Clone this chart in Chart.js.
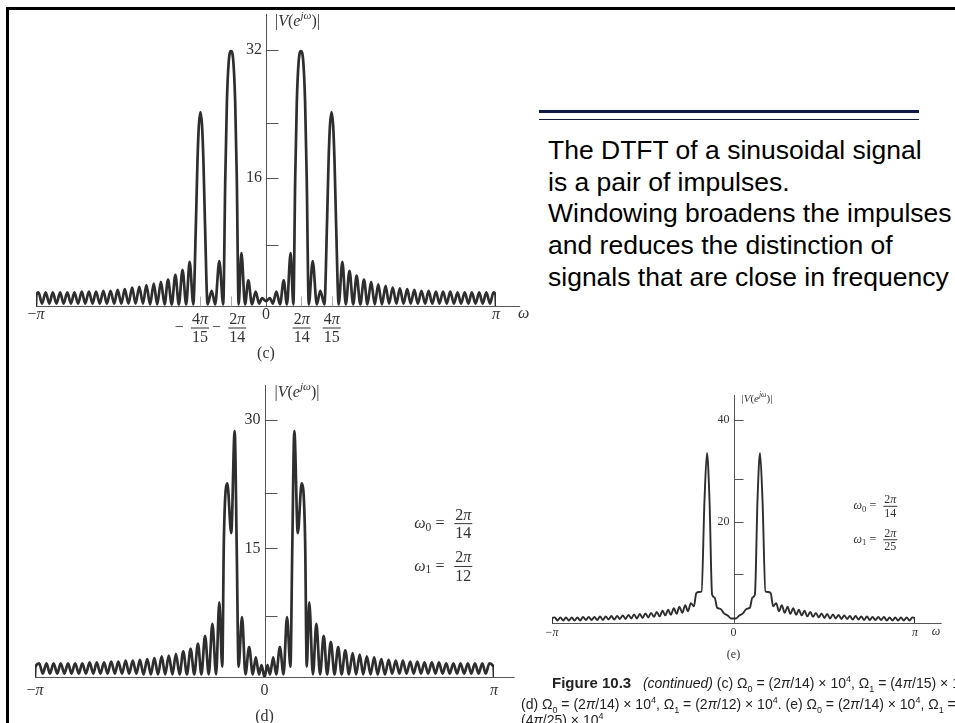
<!DOCTYPE html>
<html>
<head>
<meta charset="utf-8">
<script src="https://cdn.jsdelivr.net/npm/chart.js@4.4.0/dist/chart.umd.min.js"></script>
<style>
  html, body { margin: 0; padding: 0; background: #fff; }
  #page { position: relative; width: 955px; height: 723px; overflow: hidden; background: #fff; }
  canvas { position: absolute; left: 0; top: 0; }
  .bar { position: absolute; background: #000; }
  .rule { position: absolute; left: 539px; width: 380px; background: #0c1850; }
  .note { position: absolute; left: 548px; top: 135px; font: 26.5px/31.7px "Liberation Sans", Arial, sans-serif; color: #000; white-space: nowrap; }
  .cap { position: absolute; font: 14px/16px "Liberation Sans", Arial, sans-serif; color: #222; white-space: nowrap; }
  .cap b { font-family: "Liberation Sans Narrow", "Liberation Sans", Arial, sans-serif; font-size: 15px; }
  .cap sub, .cap sup { font-size: 9px; line-height: 0; }
</style>
</head>
<body>
<div id="page">
  <div class="bar" style="left:6px; top:7px; width:949px; height:3px"></div>
  <div class="bar" style="left:6px; top:7px; width:3px; height:716px"></div>
  <div class="rule" style="top:110px; height:3px"></div>
  <div class="rule" style="top:119px; height:1px"></div>
  <div class="note">The DTFT of a sinusoidal signal<br>is a pair of impulses.<br>Windowing broadens the impulses<br>and reduces the distinction of<br>signals that are close in frequency</div>

  <canvas id="chartC" width="955" height="723"></canvas>
  <canvas id="chartD" width="955" height="723"></canvas>
  <canvas id="chartE" width="955" height="723"></canvas>

  <div class="cap" style="left:552px; top:675px"><b>Figure 10.3</b>&nbsp;&nbsp; <i>(continued)</i> (c) Ω<sub>0</sub> = (2<i>π</i>/14) × 10<sup>4</sup>, Ω<sub>1</sub> = (4<i>π</i>/15) × 10<sup>4</sup>,</div>
  <div class="cap" style="left:521px; top:696px">(d) Ω<sub>0</sub> = (2<i>π</i>/14) × 10<sup>4</sup>, Ω<sub>1</sub> = (2<i>π</i>/12) × 10<sup>4</sup>. (e) Ω<sub>0</sub> = (2<i>π</i>/14) × 10<sup>4</sup>, Ω<sub>1</sub> =</div>
  <div class="cap" style="left:521px; top:712px">(4<i>π</i>/25) × 10<sup>4</sup>.</div>
</div>

<script>
// ---- panel (c): w0 = 2pi/14, w1 = 4pi/15 (omega in units of pi) ----
const cOmega = [
  -1, -0.998, -0.989, -0.974, -0.958, -0.942, -0.927, -0.911, -0.895, -0.880,
  -0.864, -0.848, -0.833, -0.817, -0.801, -0.786, -0.770, -0.754, -0.739, -0.723,
  -0.707, -0.692, -0.676, -0.660, -0.645, -0.629, -0.614, -0.598, -0.582, -0.567,
  -0.551, -0.535, -0.520, -0.504, -0.488, -0.473, -0.457, -0.441, -0.426, -0.410,
  -0.394, -0.379, -0.363, -0.347, -0.332, -0.316,
  -0.305, -0.298, -0.292, -0.285, -0.278, -0.272, -0.265, -0.254,
  -0.236, -0.221, -0.203, -0.186,
  -0.177, -0.170, -0.162, -0.152, -0.142, -0.134, -0.127, -0.119,
  -0.107, -0.091, -0.077, -0.061, -0.045, -0.030, -0.017, 0, 0.017, 0.030, 0.045, 0.061, 0.077, 0.091, 0.107,
  0.119, 0.127, 0.134, 0.142, 0.152, 0.162, 0.170, 0.177, 0.186,
  0.203, 0.221, 0.236, 0.254,
  0.265, 0.272, 0.278, 0.285, 0.292, 0.298, 0.305, 0.316,
  0.332, 0.347, 0.363, 0.379, 0.394, 0.410, 0.426, 0.441, 0.457, 0.473,
  0.488, 0.504, 0.520, 0.535, 0.551, 0.567, 0.582, 0.598, 0.614, 0.629,
  0.645, 0.660, 0.676, 0.692, 0.707, 0.723, 0.739, 0.754, 0.770, 0.786,
  0.801, 0.817, 0.833, 0.848, 0.864, 0.880, 0.895, 0.911, 0.927, 0.942,
  0.958, 0.974, 0.989, 0.998, 1
];
const cMag = [
  0, 1.4, 1.7, 0.3, 1.7, 0.3, 1.7, 0.3, 1.7, 0.3,
  1.7, 0.3, 1.7, 0.3, 1.8, 0.3, 1.8, 0.3, 1.8, 0.3,
  1.9, 0.3, 1.9, 0.3, 2.0, 0.3, 2.1, 0.3, 2.3, 0.3,
  2.4, 0.3, 2.6, 0.2, 2.8, 0.2, 3.0, 0.2, 3.3, 0.2,
  3.9, 0.2, 4.5, 0.2, 5.5, 0.2,
  10, 18, 22.5, 24.2, 22.5, 18, 10, 0.2,
  1.9, 0.2, 5.6, 0.2,
  16, 25.5, 30.5, 31.8, 30.5, 25.5, 16, 0.2,
  6.6, 0.2, 3.2, 0.2, 1.8, 0.3, 1.0, 0.6, 1.0, 0.3, 1.8, 0.2, 3.2, 0.2, 6.6,
  0.2, 16, 25.5, 30.5, 31.8, 30.5, 25.5, 16, 0.2,
  5.6, 0.2, 1.9, 0.2,
  10, 18, 22.5, 24.2, 22.5, 18, 10, 0.2,
  5.5, 0.2, 4.4, 0.2, 3.8, 0.2, 3.3, 0.2, 3.0, 0.2,
  2.7, 0.2, 2.5, 0.3, 2.3, 0.3, 2.2, 0.3, 2.1, 0.3,
  2.0, 0.3, 1.9, 0.3, 1.9, 0.3, 1.8, 0.3, 1.8, 0.3,
  1.8, 0.3, 1.7, 0.3, 1.7, 0.3, 1.7, 0.3, 1.7, 0.3,
  1.7, 0.3, 1.7, 1.4, 0
];
const cYTicks = [7.6, 16, 22.8, 32];
const cYLabels = ['', '16', '', '32'];
const cXMarks = [-0.285, -0.152, 0.152, 0.285];
const cXLabels = ['−π', '−4π/15', '−2π/14', '0', '2π/14', '4π/15', 'π'];
const cXLabelAt = [-1, -0.287, -0.125, 0, 0.155, 0.286, 1];

// ---- panel (d): w0 = 2pi/14, w1 = 2pi/12 ----
const dOmega = [
  -1, -0.998, -0.982, -0.966, -0.950, -0.935, -0.919, -0.903, -0.888, -0.872,
  -0.856, -0.841, -0.825, -0.809, -0.794, -0.778, -0.762, -0.746, -0.731, -0.715,
  -0.699, -0.684, -0.668, -0.652, -0.637, -0.621, -0.605, -0.590, -0.574, -0.558,
  -0.543, -0.527, -0.511, -0.495, -0.480, -0.464, -0.448, -0.433, -0.417, -0.401,
  -0.386, -0.370, -0.354, -0.338, -0.322, -0.306, -0.290, -0.275, -0.259, -0.243,
  -0.227, -0.211, -0.197, -0.184,
  -0.177, -0.162, -0.145, -0.130, -0.121, -0.113,
  -0.098, -0.083, -0.067, -0.051, -0.038, -0.024, -0.013, 0, 0.013, 0.024, 0.038, 0.051, 0.067, 0.083, 0.098, 0.113,
  0.121, 0.130, 0.145, 0.162, 0.177, 0.184,
  0.195, 0.211, 0.226, 0.242, 0.258, 0.273, 0.289, 0.305, 0.321, 0.336,
  0.352, 0.368, 0.384, 0.399, 0.415, 0.430, 0.446, 0.462, 0.478, 0.493,
  0.509, 0.525, 0.541, 0.556, 0.572, 0.588, 0.603, 0.619, 0.635, 0.650,
  0.666, 0.682, 0.697, 0.713, 0.729, 0.745, 0.760, 0.776, 0.792, 0.807,
  0.823, 0.839, 0.854, 0.870, 0.886, 0.901, 0.917, 0.933, 0.949, 0.964,
  0.980, 0.998, 1
];
const dMag = [
  0, 1.2, 1.6, 0.4, 1.6, 0.4, 1.6, 0.4, 1.6, 0.4,
  1.6, 0.4, 1.6, 0.4, 1.6, 0.4, 1.7, 0.4, 1.7, 0.4,
  1.7, 0.4, 1.8, 0.4, 1.8, 0.4, 1.9, 0.4, 1.9, 0.4,
  2.0, 0.3, 2.1, 0.3, 2.2, 0.3, 2.4, 0.3, 2.5, 0.3,
  2.7, 0.3, 3.0, 0.3, 3.3, 0.3, 3.9, 0.3, 4.8, 0.3,
  6.2, 0.3, 8.7, 1.2,
  16, 22.6, 16.8, 28.7, 15, 1.2,
  7.0, 0.3, 3.5, 0.3, 2.3, 0.3, 1.4, 0, 1.4, 0.3, 2.3, 0.3, 3.5, 0.3, 7.0, 1.2,
  15, 28.7, 16.8, 22.6, 16, 1.2,
  8.7, 0.3, 6.2, 0.3, 4.8, 0.3, 4.1, 0.3, 3.5, 0.3,
  3.1, 0.3, 2.8, 0.3, 2.6, 0.3, 2.4, 0.3, 2.3, 0.3,
  2.1, 0.3, 2.0, 0.4, 1.9, 0.4, 1.9, 0.4, 1.8, 0.4,
  1.8, 0.4, 1.7, 0.4, 1.7, 0.4, 1.7, 0.4, 1.6, 0.4,
  1.6, 0.4, 1.6, 0.4, 1.6, 0.4, 1.6, 0.4, 1.6, 0.4,
  1.6, 1.2, 0
];
const dYTicks = [7.1, 15, 21.5, 30];
const dYLabels = ['', '15', '', '30'];
const dXLabels = ['−π', '0', 'π'];
const dXLabelAt = [-1, 0, 1];
const dNotes = [['0', '2π/14'], ['1', '2π/12']];

// ---- panel (e): w0 = 2pi/14, w1 = 4pi/25 ----
const eOmega = [
  -1, -0.998, -0.985, -0.970, -0.954, -0.938, -0.923, -0.907, -0.891, -0.876,
  -0.860, -0.845, -0.829, -0.813, -0.798, -0.782, -0.766, -0.751, -0.735, -0.720,
  -0.704, -0.688, -0.673, -0.657, -0.641, -0.626, -0.610, -0.595, -0.579, -0.563,
  -0.548, -0.532, -0.516, -0.501, -0.485, -0.470, -0.454, -0.438, -0.423, -0.407,
  -0.391, -0.376, -0.360, -0.345, -0.329, -0.313, -0.298, -0.282, -0.266, -0.251,
  -0.235, -0.218, -0.205, -0.190, -0.176, -0.160, -0.146, -0.132, -0.118,
  -0.104, -0.090, -0.072, -0.052, -0.032, -0.014, 0, 0.014, 0.032, 0.052, 0.072, 0.090, 0.104,
  0.118, 0.132, 0.146, 0.160, 0.176, 0.190, 0.205, 0.218, 0.235,
  0.251, 0.266, 0.282, 0.298, 0.313, 0.329, 0.345, 0.360, 0.376, 0.391,
  0.407, 0.423, 0.438, 0.454, 0.470, 0.485, 0.501, 0.516, 0.532, 0.548,
  0.563, 0.579, 0.595, 0.610, 0.626, 0.641, 0.657, 0.673, 0.688, 0.704,
  0.720, 0.735, 0.751, 0.766, 0.782, 0.798, 0.813, 0.829, 0.845, 0.860,
  0.876, 0.891, 0.907, 0.923, 0.938, 0.954, 0.970, 0.985, 0.998, 1
];
const eMag = [
  0, 1.0, 1.1, 0.5, 1.1, 0.5, 1.1, 0.5, 1.1, 0.5,
  1.1, 0.5, 1.2, 0.6, 1.2, 0.6, 1.2, 0.6, 1.3, 0.6,
  1.3, 0.7, 1.4, 0.7, 1.4, 0.8, 1.5, 0.8, 1.6, 0.9,
  1.7, 0.9, 1.8, 1.0, 1.9, 1.1, 2.0, 1.2, 2.2, 1.3,
  2.4, 1.5, 2.6, 1.6, 2.9, 1.8, 3.2, 2.0, 3.5, 2.3,
  3.9, 3.3, 5.9, 6.1, 6.2, 24, 33.5, 24, 5.6,
  5.0, 3.0, 2.8, 1.9, 1.5, 0.9, 0.9, 0.9, 1.5, 1.9, 2.8, 3.0, 5.0,
  5.6, 24, 33.5, 24, 6.2, 6.1, 5.9, 3.3, 3.9,
  2.3, 3.5, 2.0, 3.2, 1.8, 2.9, 1.6, 2.6, 1.5, 2.4,
  1.3, 2.2, 1.2, 2.0, 1.1, 1.9, 1.0, 1.8, 0.9, 1.7,
  0.9, 1.6, 0.8, 1.5, 0.8, 1.4, 0.7, 1.4, 0.7, 1.3,
  0.6, 1.3, 0.6, 1.2, 0.6, 1.2, 0.6, 1.2, 0.5, 1.1,
  0.5, 1.1, 0.5, 1.1, 0.5, 1.1, 0.5, 1.1, 1.0, 0
];
const eYTicks = [9.7, 20, 28.3, 40];
const eYLabels = ['', '20', '', '40'];
const eXLabels = ['−π', '0', 'π'];
const eXLabelAt = [-1, 0, 1];
const eNotes = [['0', '2π/14'], ['1', '2π/25']];

const SERIF = '"Liberation Serif", "DejaVu Serif", serif';
const INK = '#333';

function setFont(ctx, size, italic) {
  ctx.font = (italic ? 'italic ' : '') + size + 'px ' + SERIF;
}
function runsWidth(ctx, runs) {
  var w = 0;
  runs.forEach(function (r) { setFont(ctx, r.size, r.italic); w += ctx.measureText(r.t).width; });
  return w;
}
function drawRuns(ctx, runs, x, y, align) {
  var w = runsWidth(ctx, runs);
  if (align === 'center') x -= w / 2;
  else if (align === 'right') x -= w;
  ctx.textAlign = 'left';
  ctx.textBaseline = 'middle';
  runs.forEach(function (r) {
    setFont(ctx, r.size, r.italic);
    ctx.fillText(r.t, x, y + (r.dy || 0));
    x += ctx.measureText(r.t).width;
  });
  return x;
}
// greek letters in italics, digits and signs upright
function mathRuns(str, size) {
  return str.split('').map(function (ch) {
    return {t: ch, size: size, italic: 'πω'.indexOf(ch) >= 0};
  });
}
function drawFraction(ctx, num, den, cx, barY, size) {
  var a = mathRuns(num, size), b = mathRuns(den, size);
  var w = Math.max(runsWidth(ctx, a), runsWidth(ctx, b)) + 2;
  drawRuns(ctx, a, cx, barY - size * 0.52, 'center');
  drawRuns(ctx, b, cx, barY + size * 0.62, 'center');
  ctx.fillRect(cx - w / 2, barY - 0.5, w, 1);
}
function drawLabel(ctx, label, cx, y, size, fracDy) {
  var neg = label.charAt(0) === '−';
  var body = neg ? label.slice(1) : label;
  if (body.indexOf('/') < 0) {
    drawRuns(ctx, mathRuns(label, size), cx, y, 'center');
    return;
  }
  var parts = body.split('/');
  drawFraction(ctx, parts[0], parts[1], cx, y + fracDy, size);
  if (neg) drawRuns(ctx, [{t: '−', size: size}], cx - size * 1.3, y + fracDy, 'center');
}

// axes, ticks and all the book-style lettering, placed through the chart scales
function figurePlugin(p) {
  return {
    id: 'figure' + p.name,
    beforeDatasetsDraw: function (chart) {
      var ctx = chart.ctx, xs = chart.scales.x, ys = chart.scales.y;
      var x0 = Math.round(xs.getPixelForValue(0)) + 0.5;
      var yb = Math.round(ys.getPixelForValue(0)) + 0.5;
      ctx.save();
      ctx.strokeStyle = '#555';
      ctx.lineWidth = 1;
      ctx.beginPath();
      ctx.moveTo(xs.getPixelForValue(-1), yb);
      ctx.lineTo(xs.getPixelForValue(p.axisEnd), yb);
      ctx.moveTo(x0, yb);
      ctx.lineTo(x0, ys.getPixelForValue(ys.max));
      p.yTicks.forEach(function (t) {
        var y = Math.round(ys.getPixelForValue(t)) + 0.5;
        ctx.moveTo(x0, y);
        ctx.lineTo(x0 + p.tickLen, y);
      });
      ctx.stroke();
      if (p.xMarks) {
        ctx.strokeStyle = '#aaa';
        ctx.beginPath();
        p.xMarks.forEach(function (m) {
          var x = Math.round(xs.getPixelForValue(m)) + 0.5;
          ctx.moveTo(x, yb);
          ctx.lineTo(x, yb - 10);
        });
        ctx.stroke();
      }
      ctx.restore();
    },
    afterDraw: function (chart) {
      var ctx = chart.ctx, xs = chart.scales.x, ys = chart.scales.y;
      var x0 = xs.getPixelForValue(0), yb = ys.getPixelForValue(0);
      var s = p.font;
      ctx.save();
      ctx.fillStyle = INK;
      p.yTicks.forEach(function (t, i) {
        if (p.yLabels[i]) drawRuns(ctx, mathRuns(p.yLabels[i], s), x0 - 4, ys.getPixelForValue(t), 'right');
      });
      p.xLabels.forEach(function (l, i) {
        drawLabel(ctx, l, xs.getPixelForValue(p.xLabelAt[i]), yb + p.labelDy, s, p.fracDy);
      });
      if (p.omegaAt) drawRuns(ctx, mathRuns('ω', s), xs.getPixelForValue(p.omegaAt), yb + p.labelDy - 1, 'center');
      drawRuns(ctx, [{t: '(' + p.name + ')', size: s}], x0, yb + p.nameDy, 'center');
      // |V(e^{jw})|
      var ts = p.titleSize;
      drawRuns(ctx, [
        {t: '|', size: ts}, {t: 'V', size: ts, italic: true}, {t: '(', size: ts},
        {t: 'e', size: ts, italic: true}, {t: 'jω', size: ts * 0.7, italic: true, dy: -ts * 0.4},
        {t: ')|', size: ts}
      ], x0 + p.titleDx, ys.getPixelForValue(ys.max) + p.titleDy, 'left');
      if (p.notes) {
        p.notes.forEach(function (n, i) {
          var ex = xs.getPixelForValue(p.noteAt[0]), ey = ys.getPixelForValue(p.noteAt[1] - i * p.noteStep);
          drawRuns(ctx, [{t: 'ω', size: s, italic: true}, {t: n[0], size: s * 0.72, dy: s * 0.25}], ex - s * 0.55, ey, 'right');
          drawRuns(ctx, [{t: '=', size: s}], ex, ey, 'center');
          var q = n[1].split('/');
          drawFraction(ctx, q[0], q[1], ex + s * 1.45, ey, s);
        });
      }
      ctx.restore();
    }
  };
}

function buildPanel(p) {
  var pts = p.omega.map(function (w, i) { return {x: w, y: p.mag[i]}; });
  return new Chart(document.getElementById(p.canvas), {
    type: 'line',
    data: {
      datasets: [{
        data: pts,
        borderColor: '#2e2e2e',
        borderWidth: p.lineWidth,
        pointRadius: 0,
        fill: false,
        cubicInterpolationMode: 'monotone'
      }]
    },
    options: {
      responsive: false,
      animation: false,
      devicePixelRatio: 1,
      layout: {padding: p.pad},
      plugins: {legend: {display: false}, tooltip: {enabled: false}},
      scales: {
        x: {type: 'linear', min: -1, max: 1, display: false},
        y: {type: 'linear', min: 0, max: p.yMax, display: false}
      }
    },
    plugins: [figurePlugin(p)]
  });
}

buildPanel({
  canvas: 'chartC', name: 'c', omega: cOmega, mag: cMag,
  pad: {left: 36, right: 459, top: 14, bottom: 417}, yMax: 36.43,
  yTicks: cYTicks, yLabels: cYLabels, xMarks: cXMarks,
  xLabels: cXLabels, xLabelAt: cXLabelAt, omegaAt: 1.12,
  axisEnd: 1.105, tickLen: 12, font: 16, labelDy: 9, fracDy: 13, nameDy: 48,
  titleSize: 16, titleDx: 9, titleDy: 8, lineWidth: 2.7
});
buildPanel({
  canvas: 'chartD', name: 'd', omega: dOmega, mag: dMag,
  pad: {left: 35, right: 461, top: 385, bottom: 46}, yMax: 34.08,
  yTicks: dYTicks, yLabels: dYLabels,
  xLabels: dXLabels, xLabelAt: dXLabelAt,
  notes: dNotes, noteAt: [0.765, 17.9], noteStep: 5.0,
  axisEnd: 1.09, tickLen: 12, font: 16, labelDy: 14, fracDy: 13, nameDy: 40,
  titleSize: 16, titleDx: 10, titleDy: 8, lineWidth: 2.7
});
buildPanel({
  canvas: 'chartE', name: 'e', omega: eOmega, mag: eMag,
  pad: {left: 552, right: 40, top: 395, bottom: 100}, yMax: 44.93,
  yTicks: eYTicks, yLabels: eYLabels,
  xLabels: eXLabels, xLabelAt: eXLabelAt, omegaAt: 1.115,
  notes: eNotes, noteAt: [0.768, 23.0], noteStep: 6.6,
  axisEnd: 1.147, tickLen: 9, font: 12, labelDy: 10, fracDy: 10, nameDy: 32,
  titleSize: 11, titleDx: 8, titleDy: 4, lineWidth: 1.9
});
</script>
</body>
</html>
